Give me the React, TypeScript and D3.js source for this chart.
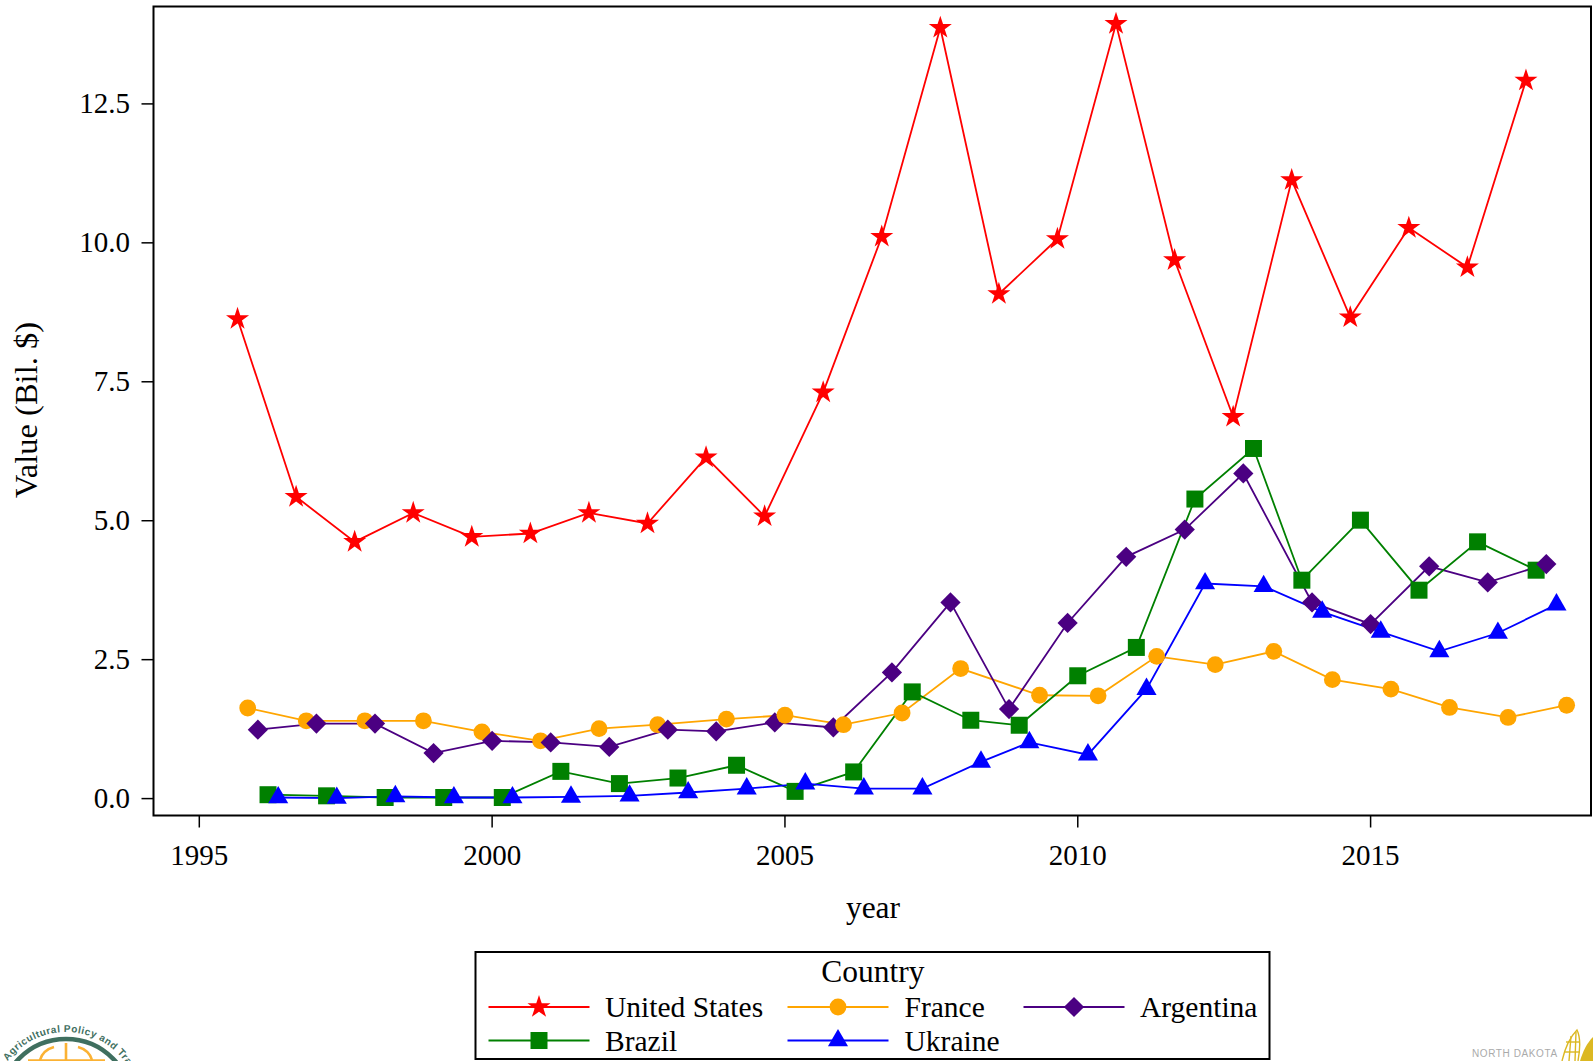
import React from "react";
import * as d3 from "d3";

const years = d3.range(1996, 2019);
const usValues = [8.63,5.43,4.62,5.14,4.71,4.77,5.14,4.95,6.14,5.08,7.31,10.11,13.87,9.08,10.07,13.94,9.69,6.87,11.13,8.66,10.27,9.56,12.92];
const franceValues = [1.63,1.40,1.40,1.40,1.20,1.04,1.26,1.33,1.43,1.50,1.33,1.54,2.34,1.86,1.85,2.56,2.41,2.65,2.14,1.97,1.64,1.46,1.68];
const argentinaValues = [1.24,1.35,1.35,0.82,1.04,1.01,0.93,1.24,1.21,1.37,1.28,2.27,3.53,1.61,3.16,4.35,4.84,5.85,3.53,3.14,4.18,3.89,4.22];
const brazilValues = [0.07,0.05,0.02,0.02,0.02,0.49,0.27,0.37,0.60,0.13,0.48,1.92,1.41,1.32,2.21,2.72,5.39,6.30,3.93,5.01,3.75,4.62,4.11];
const ukraineValues = [0.02,0.01,0.04,0.02,0.02,0.03,0.05,0.11,0.18,0.27,0.18,0.18,0.66,1.01,0.79,1.97,3.87,3.82,3.36,3.00,2.65,2.98,3.49];

// cluster position of each country inside every year's group
const usSlots = [-2,-2,-2,-2,-2,-2,-2,-2,-2,-2,-2,-2,-2,-2,-2,-2,-2,-2,-2,-2,-2,-2,-2];
const franceSlots = [-1,-1,-1,-1,-1,-1,-1,-1,0,0,0,0,0,2,2,2,2,2,2,2,2,2,2];
const argentinaSlots = [0,0,0,0,0,0,0,0,-1,-1,-1,-1,-1,-1,-1,-1,-1,-1,0,0,0,0,0];
const brazilSlots = [1,1,1,1,1,1,1,1,1,1,1,1,1,0,0,0,0,0,-1,-1,-1,-1,-1];
const ukraineSlots = [2,2,2,2,2,2,2,2,2,2,2,2,2,1,1,1,1,1,1,1,1,1,1];

const xTicks = [1995, 2000, 2005, 2010, 2015];
const yTicks = [0, 2.5, 5, 7.5, 10, 12.5];
const legendTitle = "Country";

const WIDTH = 1593, HEIGHT = 1061;
const FONT = "'Liberation Serif', 'Times New Roman', serif";
const FS = 29;
const LEGEND_FS = 29.5;
const TITLE_FS = 31.5;
const plot = { left: 153.5, right: 1591, top: 6.5, bottom: 815.5 };
const SLOT = 0.1736;

const x = d3.scaleLinear().domain([1995, 2015]).range([199.3, 1370.6]);
const y = d3.scaleLinear().domain([0, 12.5]).range([798.6, 103.9]);

const starPath = d3.symbol(d3.symbolStar, 165)()!;
const circlePath = d3.symbol(d3.symbolCircle, 222)()!;
const squarePath = d3.symbol(d3.symbolSquare, 289)()!;
const trianglePath = d3.symbol(d3.symbolTriangle, 175)()!;
const diamondPath = d3.symbol(d3.symbolSquare, 205)()!;

const series = [
  { name: "United States", values: usValues, slots: usSlots, color: "#ff0000", path: starPath, rot: 0 },
  { name: "France", values: franceValues, slots: franceSlots, color: "#ffa500", path: circlePath, rot: 0 },
  { name: "Argentina", values: argentinaValues, slots: argentinaSlots, color: "#4b0082", path: diamondPath, rot: 45 },
  { name: "Brazil", values: brazilValues, slots: brazilSlots, color: "#008000", path: squarePath, rot: 0 },
  { name: "Ukraine", values: ukraineValues, slots: ukraineSlots, color: "#0000ff", path: trianglePath, rot: 0 },
];

const legendPlaces = [
  { line: 488.5, text: 605, row: 1007 },
  { line: 787.5, text: 904.5, row: 1007 },
  { line: 1023.5, text: 1140, row: 1007 },
  { line: 488.5, text: 605, row: 1040.5 },
  { line: 787.5, text: 904.5, row: 1040.5 },
];

const px = (s: (typeof series)[number], i: number) => x(years[i] + s.slots[i] * SLOT);

export default function App() {
  const line = (s: (typeof series)[number]) =>
    d3.line<number>().x((_, i) => px(s, i)).y((v) => y(v))(s.values)!;

  const markers = series
    .flatMap((s) => s.values.map((v, i) => ({ s, v, i, slot: s.slots[i] })))
    .sort((a, b) => a.slot - b.slot);

  return (
    <svg
      width={WIDTH}
      height={HEIGHT}
      viewBox={`0 0 ${WIDTH} ${HEIGHT}`}
      style={{ position: "absolute", left: 0, top: 0, display: "block", background: "#fff" }}
      fontFamily={FONT}
    >
      <defs>
        <path id="logoArc" d="M -7 1105 A 73 73 0 0 1 139 1105" />
      </defs>

      {xTicks.map((t) => (
        <g key={t}>
          <line x1={x(t)} x2={x(t)} y1={plot.bottom} y2={plot.bottom + 12} stroke="#000" strokeWidth={1.5} />
          <text x={x(t)} y={865} textAnchor="middle" fontSize={FS} fill="#000">{t}</text>
        </g>
      ))}
      {yTicks.map((t) => (
        <g key={t}>
          <line x1={plot.left - 12} x2={plot.left} y1={y(t)} y2={y(t)} stroke="#000" strokeWidth={1.5} />
          <text x={130} y={y(t) + 9.5} textAnchor="end" fontSize={FS} fill="#000">{t.toFixed(1)}</text>
        </g>
      ))}
      <text x={873} y={918} textAnchor="middle" fontSize={TITLE_FS} fill="#000">year</text>
      <text transform="translate(37,410) rotate(-90)" textAnchor="middle" fontSize={TITLE_FS + 1} fill="#000">Value (Bil. $)</text>

      {series.map((s) => (
        <path key={s.name} d={line(s)} fill="none" stroke={s.color} strokeWidth={1.8} />
      ))}
      {markers.map(({ s, v, i }) => (
        <path
          key={s.name + i}
          d={s.path}
          fill={s.color}
          transform={`translate(${px(s, i)},${y(v)}) rotate(${s.rot})`}
        />
      ))}
      <rect
        x={plot.left}
        y={plot.top}
        width={plot.right - plot.left}
        height={plot.bottom - plot.top}
        fill="none"
        stroke="#000"
        strokeWidth={2}
      />

      <rect x={475.5} y={952} width={794} height={107} fill="#fff" stroke="#000" strokeWidth={2} />
      <text x={873} y={982} textAnchor="middle" fontSize={TITLE_FS} fill="#000">{legendTitle}</text>
      {series.map((s, k) => {
        const p = legendPlaces[k];
        return (
          <g key={s.name}>
            <line x1={p.line} x2={p.line + 101} y1={p.row} y2={p.row} stroke={s.color} strokeWidth={1.8} />
            <path d={s.path} fill={s.color} transform={`translate(${p.line + 50.5},${p.row}) rotate(${s.rot})`} />
            <text x={p.text} y={p.row + 10} fontSize={LEGEND_FS} fill="#000">{s.name}</text>
          </g>
        );
      })}

      <circle cx={66} cy={1105} r={66} fill="none" stroke="#3f6f5f" strokeWidth={4.5} />
      <text fontFamily="'Liberation Sans', sans-serif" fontWeight={700} fontSize={10} fill="#3f6f5f" letterSpacing={0.5} textAnchor="middle">
        <textPath href="#logoArc" startOffset="50%">for Agricultural Policy and Trade</textPath>
      </text>
      <g stroke="#fbb234" strokeWidth={2.6} fill="none">
        <line x1={66} x2={66} y1={1043} y2={1061} />
        <line x1={28} x2={105} y1={1060.5} y2={1060.5} />
        <path d="M 40 1060 Q 43 1050 54 1047" />
        <path d="M 92 1060 Q 89 1050 78 1047" />
      </g>
      <text x={1472} y={1057} fontFamily="'Liberation Sans', sans-serif" fontSize={10} fill="#aaa" letterSpacing={0.6}>NORTH DAKOTA</text>
      <g stroke="#dcb822" fill="none" strokeWidth={1.4}>
        <path d="M 1562 1061 C 1565 1048 1571 1036 1577 1030 C 1581 1038 1580 1050 1578 1061" />
        <line x1={1569} x2={1571} y1={1061} y2={1036} />
        <line x1={1575} x2={1576} y1={1061} y2={1032} />
        <line x1={1566} x2={1580} y1={1042} y2={1042} />
        <line x1={1564} x2={1580} y1={1052} y2={1052} />
      </g>
      <path d="M 1580 1061 C 1583 1051 1587 1043 1593 1037 L 1593 1061 Z" fill="#dcb822" />
    </svg>
  );
}
